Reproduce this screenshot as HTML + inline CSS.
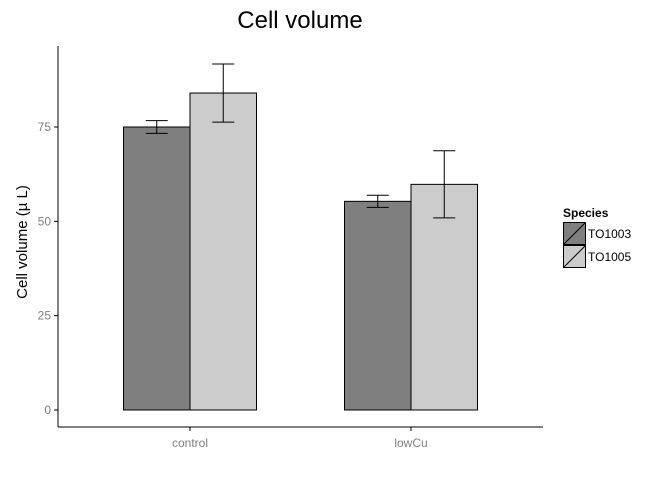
<!DOCTYPE html>
<html><head><meta charset="utf-8"><style>
body{margin:0;background:#fff;}
svg{display:block;font-family:"Liberation Sans",sans-serif;}
</style></head><body>
<svg id="c" width="672" height="480">
<text x="300" y="28" font-size="24" text-anchor="middle" fill="#000">Cell volume</text>
<text transform="translate(27,242) rotate(-90)" font-size="15" text-anchor="middle" fill="#000">Cell volume (µ L)</text>
<g id="plot"></g>
<line x1="58" y1="46" x2="58" y2="427" stroke="#000"/>
<line x1="58" y1="427" x2="543" y2="427" stroke="#000"/>
<g>
<text x="563" y="217" font-size="12" font-weight="bold">Species</text>
<g><rect x="563.5" y="222.5" width="22" height="22" fill="#7f7f7f" stroke="#000"/><line x1="563.5" y1="244.5" x2="585.5" y2="222.5" stroke="#000"/><text x="588" y="238" font-size="12">TO1003</text></g>
<g><rect x="563.5" y="245.5" width="22" height="22" fill="#cccccc" stroke="#000"/><line x1="563.5" y1="267.5" x2="585.5" y2="245.5" stroke="#000"/><text x="588" y="261" font-size="12">TO1005</text></g>
</g>
</svg>
<script>
const categories=["control","lowCu"];
const series=["TO1003","TO1005"];
const to1003=[75.0,55.3];
const to1005=[84.0,59.8];
const err1003=[1.7,1.6];
const err1005=[7.7,8.9];
const yTicks=[0,25,50,75];
const colors=["#7f7f7f","#cccccc"];
const y=v=>410-v*(410-127)/75;
const xc=i=>190+i*221;
const bw=66.5;
const g=document.getElementById('plot');
const NS="http://www.w3.org/2000/svg";
function mk(t,a){const e=document.createElementNS(NS,t);for(const k in a)e.setAttribute(k,a[k]);g.appendChild(e);return e;}
yTicks.forEach(t=>{
 const l=mk('line',{x1:54,x2:58,y1:y(t),y2:y(t),stroke:'#000'});
 
 
 const tx=mk('text',{x:51,y:y(t)+4,'font-size':12,'text-anchor':'end',fill:'#7f7f7f'});tx.textContent=t;
 
 
});
categories.forEach((c,i)=>{
 const l=mk('line',{x1:xc(i),x2:xc(i),y1:427,y2:431,stroke:'#000'});
 
 
 const tx=mk('text',{x:xc(i),y:447,'font-size':12,'text-anchor':'middle',fill:'#7f7f7f'});tx.textContent=c;
 
 
 [[to1003,err1003],[to1005,err1005]].forEach((s,j)=>{
  const v=s[0][i],e=s[1][i];
  const x0=xc(i)-bw+j*bw;
  const r=mk('rect',{x:x0,y:y(v),width:bw,height:y(0)-y(v),fill:colors[j],stroke:'#000'});
  
  
  const cx=x0+bw/2;
  const eg=document.createElementNS(NS,'g');g.appendChild(eg);
  
  
  [[cx,y(v+e),cx,y(v-e)],[cx-11,y(v+e),cx+11,y(v+e)],[cx-11,y(v-e),cx+11,y(v-e)]].forEach(p=>{
   const ln=document.createElementNS(NS,'line');
   ln.setAttribute('x1',p[0]);ln.setAttribute('y1',p[1]);ln.setAttribute('x2',p[2]);ln.setAttribute('y2',p[3]);ln.setAttribute('stroke','#000');
   eg.appendChild(ln);
  });
 });
});
</script>
</body></html>
